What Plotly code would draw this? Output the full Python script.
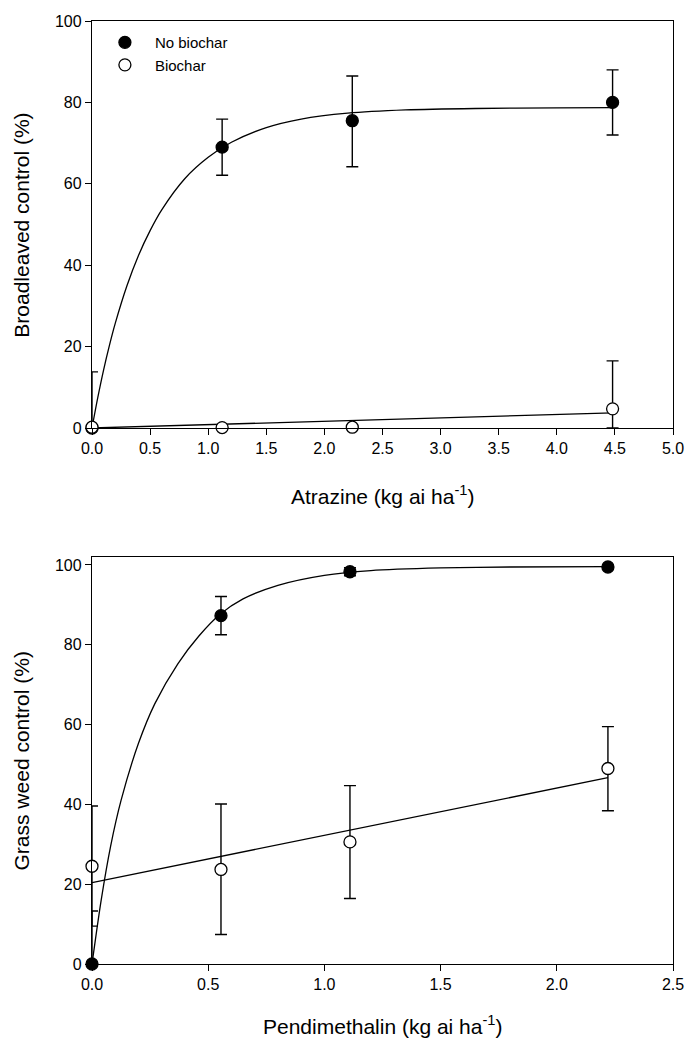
import plotly.graph_objects as go

# ---------------- data ----------------
# Top panel: Atrazine
atr_x = [0.0, 1.12, 2.24, 4.48]
atr_nobio_y = [0.0, 69.0, 75.5, 80.0]
atr_nobio_err_up = [13.8, 6.9, 11.0, 8.0]
atr_nobio_err_dn = [0.0, 6.9, 11.3, 8.0]
atr_bio_y = [0.2, 0.1, 0.2, 4.7]
atr_bio_err_up = [0.0, 0.0, 0.0, 11.8]
atr_bio_err_dn = [0.0, 0.0, 0.0, 4.7]
# fitted curves
atr_fit_nobio_x = [0.0, 0.05, 0.1, 0.15, 0.2, 0.3, 0.4, 0.5, 0.6, 0.8, 1.0, 1.2, 1.5, 1.8, 2.2, 2.7, 3.3, 4.0, 4.48]
atr_fit_nobio_y = [0.0, 7.5, 14.3, 20.3, 25.7, 34.9, 42.4, 48.5, 53.6, 61.3, 66.5, 70.2, 73.8, 75.9, 77.35, 78.15, 78.5, 78.65, 78.7]
atr_fit_bio_x = [0.0, 4.48]
atr_fit_bio_y = [0.0, 3.7]

# Bottom panel: Pendimethalin
pen_x = [0.0, 0.555, 1.11, 2.22]
pen_nobio_y = [0.0, 87.3, 98.3, 99.5]
pen_nobio_err_up = [13.3, 4.8, 1.0, 0.0]
pen_nobio_err_dn = [0.0, 4.8, 1.0, 0.0]
pen_bio_y = [24.5, 23.7, 30.6, 49.0]
pen_bio_err_up = [15.1, 16.4, 14.1, 10.5]
pen_bio_err_dn = [15.0, 16.3, 14.2, 10.6]
pen_fit_nobio_x = [0.0, 0.04, 0.08, 0.125, 0.2, 0.27, 0.37, 0.46, 0.55, 0.65, 0.8, 1.0, 1.2, 1.5, 1.8, 2.22]
pen_fit_nobio_y = [0.0, 16.2, 29.5, 41.0, 55.3, 65.2, 75.3, 82.2, 87.6, 91.5, 94.9, 97.4, 98.6, 99.25, 99.5, 99.6]
pen_fit_bio_x = [0.0, 2.22]
pen_fit_bio_y = [20.4, 46.7]

legend_names = ["No biochar", "Biochar"]
x_ticks_top = [0.0, 0.5, 1.0, 1.5, 2.0, 2.5, 3.0, 3.5, 4.0, 4.5, 5.0]
x_ticks_bot = [0.0, 0.5, 1.0, 1.5, 2.0, 2.5]
y_ticks = [0, 20, 40, 60, 80, 100]

FONT = "Liberation Sans, Arial, sans-serif"
LW = 1.3

fig = go.Figure()

def line(x, y, xa, ya):
    fig.add_trace(go.Scatter(x=x, y=y, mode="lines", xaxis=xa, yaxis=ya,
                             line=dict(color="black", width=LW, shape="spline", smoothing=0.8),
                             showlegend=False, hoverinfo="skip"))

def pts(x, y, up, dn, filled, name, show, xa, ya):
    fig.add_trace(go.Scatter(
        x=x, y=y, mode="markers", xaxis=xa, yaxis=ya, name=name, showlegend=show,
        cliponaxis=False,
        marker=dict(size=12, symbol="circle",
                    color="black" if filled else "white",
                    line=dict(color="black", width=LW)),
        error_y=dict(type="data", symmetric=False, array=up, arrayminus=dn,
                     color="black", thickness=1.4, width=6)))

# top panel
line(atr_fit_nobio_x, atr_fit_nobio_y, "x", "y")
line(atr_fit_bio_x, atr_fit_bio_y, "x", "y")
pts(atr_x, atr_nobio_y, atr_nobio_err_up, atr_nobio_err_dn, True, legend_names[0], True, "x", "y")
pts(atr_x, atr_bio_y, atr_bio_err_up, atr_bio_err_dn, False, legend_names[1], True, "x", "y")

# bottom panel
line(pen_fit_nobio_x, pen_fit_nobio_y, "x2", "y2")
line(pen_fit_bio_x, pen_fit_bio_y, "x2", "y2")
pts(pen_x, pen_nobio_y, pen_nobio_err_up, pen_nobio_err_dn, True, legend_names[0], False, "x2", "y2")
pts(pen_x, pen_bio_y, pen_bio_err_up, pen_bio_err_dn, False, legend_names[1], False, "x2", "y2")

axis_common = dict(showgrid=False, zeroline=False, showline=True, linecolor="black",
                   linewidth=LW, mirror=True, ticks="outside", ticklen=6, tickwidth=LW,
                   tickcolor="black", automargin=False, ticklabeloverflow="allow",
                   tickfont=dict(family=FONT, size=16, color="black"))

fig.update_layout(
    template="none",
    width=686, height=1045,
    margin=dict(l=92, r=13, t=21, b=81, autoexpand=False),
    paper_bgcolor="white", plot_bgcolor="white",
    font=dict(family=FONT, color="black"),
    xaxis=dict(axis_common, domain=[0, 1], anchor="y", range=[0, 5.0],
               tickvals=x_ticks_top, ticktext=[f"{v:.1f}" for v in x_ticks_top]),
    yaxis=dict(axis_common, domain=[0.5684, 1], anchor="x", range=[0, 100],
               tickvals=y_ticks),
    xaxis2=dict(axis_common, domain=[0, 1], anchor="y2", range=[0, 2.5],
                tickvals=x_ticks_bot, ticktext=[f"{v:.1f}" for v in x_ticks_bot]),
    yaxis2=dict(axis_common, domain=[0, 0.4316], anchor="x2", range=[0, 102],
                tickvals=y_ticks),
    legend=dict(x=0.005, y=0.9946, xanchor="left", yanchor="top",
                font=dict(family=FONT, size=15, color="black"),
                bgcolor="rgba(0,0,0,0)", tracegroupgap=0, itemwidth=50),
    showlegend=True,
)

ann = dict(xref="paper", yref="paper", showarrow=False,
           font=dict(family=FONT, size=21, color="black"))
fig.add_annotation(ann, x=0.5, y=0.4973, text="Atrazine (kg ai ha<sup>-1</sup>)",
                   xanchor="center", yanchor="middle")
fig.add_annotation(ann, x=0.5, y=-0.0647, text="Pendimethalin (kg ai ha<sup>-1</sup>)",
                   xanchor="center", yanchor="middle")
fig.add_annotation(ann, x=-0.1205, y=0.784, text="Broadleaved control (%)",
                   textangle=-90, xanchor="center", yanchor="middle")
fig.add_annotation(ann, x=-0.1205, y=0.2158, text="Grass weed control (%)",
                   textangle=-90, xanchor="center", yanchor="middle")

# remove the default 8px page margin so the 686x1045 figure fills the window exactly
fig.write_html("out.html",
               config={"displayModeBar": False},
               post_script="document.body.style.margin='0';document.body.style.overflow='hidden';")
